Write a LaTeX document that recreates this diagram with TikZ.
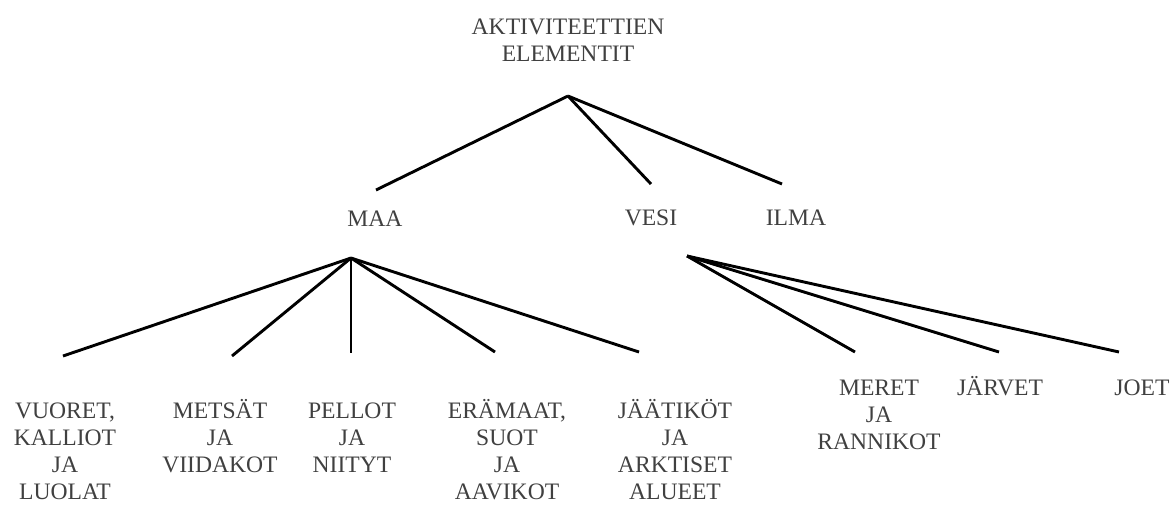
\documentclass[tikz,border=0pt]{standalone}
\usepackage{fontspec}
\setmainfont{Liberation Serif}
\definecolor{txt}{HTML}{404040}
\tikzset{
  lbl/.style={inner sep=0pt, anchor=base, align=center, text=txt,
    font=\fontsize{23.6}{27}\selectfont},
  edge/.style={line width=2.9pt, black}
}
\begin{document}
\begin{tikzpicture}[x=1pt,y=-1pt]
\useasboundingbox (0,0) rectangle (1175,507);
% labels (anchor = baseline of last line)
\node[lbl] (root) at (568,61) {AKTIVITEETTIEN\\ELEMENTIT};
\node[lbl] (maa) at (375,226) {MAA};
\node[lbl] (vesi) at (651,225) {VESI};
\node[lbl] (ilma) at (796,225) {ILMA};
\node[lbl] (vuoret) at (65,499) {VUORET,\\KALLIOT\\JA\\LUOLAT};
\node[lbl] (metsat) at (220,472) {METSÄT\\JA\\VIIDAKOT};
\node[lbl] (pellot) at (352,472) {PELLOT\\JA\\NIITYT};
\node[lbl] (eramaat) at (507,499) {ERÄMAAT,\\SUOT\\JA\\AAVIKOT};
\node[lbl] (jaatikot) at (675,499) {JÄÄTIKÖT\\JA\\ARKTISET\\ALUEET};
\node[lbl] (meret) at (879,449) {MERET\\JA\\RANNIKOT};
\node[lbl] (jarvet) at (1000,395) {JÄRVET};
\node[lbl] (joet) at (1142,395) {JOET};
% connector points
\coordinate (rootTip) at (568,96);
\coordinate (maaTop) at (376,190);
\coordinate (vesiTop) at (651,184);
\coordinate (ilmaTop) at (782,184);
\coordinate (maaTip) at (351,258);
\coordinate (vuoretTop) at (63,356);
\coordinate (metsatTop) at (232,356);
\coordinate (pellotTop) at (351,353);
\coordinate (eramaatTop) at (495,352);
\coordinate (jaatikotTop) at (639,352);
\coordinate (vesiTip) at (687,256);
\coordinate (meretTop) at (855,352);
\coordinate (jarvetTop) at (999,352);
\coordinate (joetTop) at (1119,352);
% connectors
\foreach \c in {maaTop,vesiTop,ilmaTop} \draw[edge] (rootTip) -- (\c);
\foreach \c in {vuoretTop,metsatTop,pellotTop,eramaatTop,jaatikotTop} \draw[edge] (maaTip) -- (\c);
\foreach \c in {meretTop,jarvetTop,joetTop} \draw[edge] (vesiTip) -- (\c);
\end{tikzpicture}
\end{document}
